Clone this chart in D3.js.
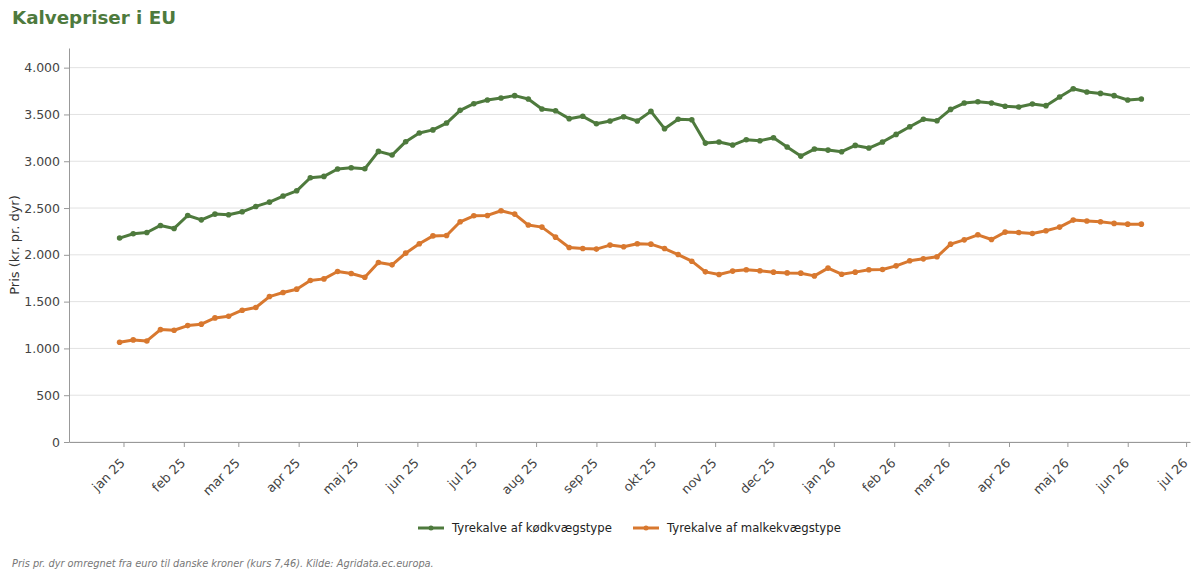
<!DOCTYPE html>
<html>
<head>
<meta charset="utf-8">
<script src="https://cdn.jsdelivr.net/npm/d3@7"></script>
<style>
  body { margin: 0; background: #fff; font-family: "DejaVu Sans", sans-serif; }
  svg text { font-family: "DejaVu Sans", sans-serif; }
</style>
</head>
<body>
<script>
// week dates (Monday of each week)
var weeks = [
  "2024-12-30","2025-01-06","2025-01-13","2025-01-20","2025-01-27","2025-02-03","2025-02-10","2025-02-17","2025-02-24",
  "2025-03-03","2025-03-10","2025-03-17","2025-03-24","2025-03-31","2025-04-07","2025-04-14","2025-04-21","2025-04-28",
  "2025-05-05","2025-05-12","2025-05-19","2025-05-26","2025-06-02","2025-06-09","2025-06-16","2025-06-23","2025-06-30",
  "2025-07-07","2025-07-14","2025-07-21","2025-07-28","2025-08-04","2025-08-11","2025-08-18","2025-08-25","2025-09-01",
  "2025-09-08","2025-09-15","2025-09-22","2025-09-29","2025-10-06","2025-10-13","2025-10-20","2025-10-27","2025-11-03",
  "2025-11-10","2025-11-17","2025-11-24","2025-12-01","2025-12-08","2025-12-15","2025-12-22","2025-12-29","2026-01-05",
  "2026-01-12","2026-01-19","2026-01-26","2026-02-02","2026-02-09","2026-02-16","2026-02-23","2026-03-02","2026-03-09",
  "2026-03-16","2026-03-23","2026-03-30","2026-04-06","2026-04-13","2026-04-20","2026-04-27","2026-05-04","2026-05-11",
  "2026-05-18","2026-05-25","2026-06-01","2026-06-08"
];

// Tyrekalve af kødkvægstype
var koed = [
  2179,2225,2239,2314,2282,2420,2374,2435,2428,2460,2517,2563,2628,2684,2824,2838,2917,2930,2920,3105,
  3066,3209,3301,3335,3408,3544,3615,3654,3676,3701,3665,3558,3540,3455,3480,3401,3430,3476,3430,3533,
  3348,3448,3444,3194,3205,3173,3230,3219,3251,3152,3055,3130,3119,3102,3169,3141,3205,3287,3369,3448,
  3433,3554,3622,3636,3622,3587,3580,3612,3594,3687,3775,3740,3725,3701,3654,3665
];

// Tyrekalve af malkekvægstype
var malk = [
  1066,1091,1080,1201,1194,1244,1259,1326,1344,1408,1437,1554,1597,1633,1725,1743,1822,1800,1761,1918,
  1893,2018,2118,2202,2207,2353,2417,2421,2471,2435,2318,2296,2189,2078,2067,2061,2104,2086,2118,2114,
  2067,2003,1932,1818,1790,1826,1840,1830,1815,1807,1804,1775,1858,1793,1815,1840,1843,1882,1936,1957,
  1979,2114,2160,2214,2164,2243,2239,2228,2257,2296,2371,2361,2353,2336,2328,2328
];

var seriesNames = ["Tyrekalve af kødkvægstype", "Tyrekalve af malkekvægstype"];
var seriesColors = ["#4e7a3d", "#d8782f"];
var monthNames = ["jan","feb","mar","apr","maj","jun","jul","aug","sep","okt","nov","dec"];
var yTicks = [0, 500, 1000, 1500, 2000, 2500, 3000, 3500, 4000];

var W = 1200, H = 578;
var margin = { top: 48, right: 10, bottom: 136, left: 69 };
var width = W - margin.left - margin.right,
    height = H - margin.top - margin.bottom;

var parse = d3.utcParse("%Y-%m-%d");
var dates = weeks.map(parse);

var x = d3.scaleUtc()
  .domain([parse("2024-12-04"), parse("2026-07-03")])
  .range([0, width]);

var y = d3.scaleLinear()
  .domain([0, 4210])
  .range([height, 0]);

var fmt = d3.formatLocale({ decimal: ",", thousands: ".", grouping: [3], currency: ["", " kr."] }).format(",d");

var svg = d3.select("body").append("svg")
  .attr("width", W)
  .attr("height", H);

// title
svg.append("text")
  .attr("x", 12)
  .attr("y", 24)
  .attr("font-size", 18.3)
  .attr("font-weight", "bold")
  .attr("fill", "#4e7a3d")
  .text("Kalvepriser i EU");

var g = svg.append("g")
  .attr("transform", "translate(" + margin.left + "," + margin.top + ")");

// gridlines
g.append("g")
  .selectAll("line")
  .data(yTicks)
  .enter().append("line")
  .attr("x1", 0)
  .attr("x2", width)
  .attr("y1", function (d) { return y(d); })
  .attr("y2", function (d) { return y(d); })
  .attr("stroke", "#e2e2e2")
  .attr("stroke-width", 1);

// y axis
var yAxis = g.append("g")
  .call(d3.axisLeft(y).tickValues(yTicks).tickFormat(fmt).tickSize(5).tickSizeOuter(0));
yAxis.select(".domain").attr("stroke", "#999");
yAxis.selectAll(".tick line").attr("stroke", "#999");
yAxis.selectAll(".tick text")
  .attr("font-size", 12.5)
  .attr("fill", "#444")
  .attr("x", -9);

// x axis
var xAxis = g.append("g")
  .attr("transform", "translate(0," + height + ")")
  .call(d3.axisBottom(x)
    .ticks(d3.utcMonth.every(1))
    .tickFormat(function (d) { return monthNames[d.getUTCMonth()] + " " + d3.utcFormat("%y")(d); })
    .tickSize(5).tickSizeOuter(0));
xAxis.select(".domain").attr("stroke", "#999");
xAxis.selectAll(".tick line").attr("stroke", "#999");
xAxis.selectAll(".tick text")
  .attr("font-size", 12.8)
  .attr("fill", "#444")
  .attr("text-anchor", "end")
  .attr("dy", "0.35em")
  .attr("transform", "translate(-7,13) rotate(-45)");

// y axis label
svg.append("text")
  .attr("transform", "translate(19," + (margin.top + height / 2) + ") rotate(-90)")
  .attr("text-anchor", "middle")
  .attr("font-size", 13)
  .attr("fill", "#333")
  .text("Pris (kr. pr. dyr)");

// lines + dots
var series = [koed, malk];
var line = d3.line()
  .x(function (d, i) { return x(dates[i]); })
  .y(function (d) { return y(d); });

series.forEach(function (vals, s) {
  g.append("path")
    .datum(vals)
    .attr("fill", "none")
    .attr("stroke", seriesColors[s])
    .attr("stroke-width", 3)
    .attr("stroke-linejoin", "round")
    .attr("d", line);

  g.append("g")
    .selectAll("circle")
    .data(vals)
    .enter().append("circle")
    .attr("cx", function (d, i) { return x(dates[i]); })
    .attr("cy", function (d) { return y(d); })
    .attr("r", 2.8)
    .attr("fill", seriesColors[s]);
});

// legend
var legendX = [418, 633];
var legend = svg.selectAll(".legend")
  .data(seriesNames)
  .enter().append("g")
  .attr("class", "legend")
  .attr("transform", function (d, i) { return "translate(" + legendX[i] + ",528)"; });

legend.append("line")
  .attr("x1", 0).attr("x2", 26)
  .attr("stroke", function (d, i) { return seriesColors[i]; })
  .attr("stroke-width", 3);
legend.append("circle")
  .attr("cx", 13).attr("r", 2.5)
  .attr("fill", function (d, i) { return seriesColors[i]; });
legend.append("text")
  .attr("x", 34)
  .attr("dy", "0.35em")
  .attr("font-size", 11.7)
  .attr("fill", "#222")
  .text(function (d) { return d; });

// footnote
svg.append("text")
  .attr("x", 12)
  .attr("y", 567)
  .attr("font-size", 9.8)
  .attr("font-style", "italic")
  .attr("fill", "#777")
  .text("Pris pr. dyr omregnet fra euro til danske kroner (kurs 7,46). Kilde: Agridata.ec.europa.");
</script>
</body>
</html>
